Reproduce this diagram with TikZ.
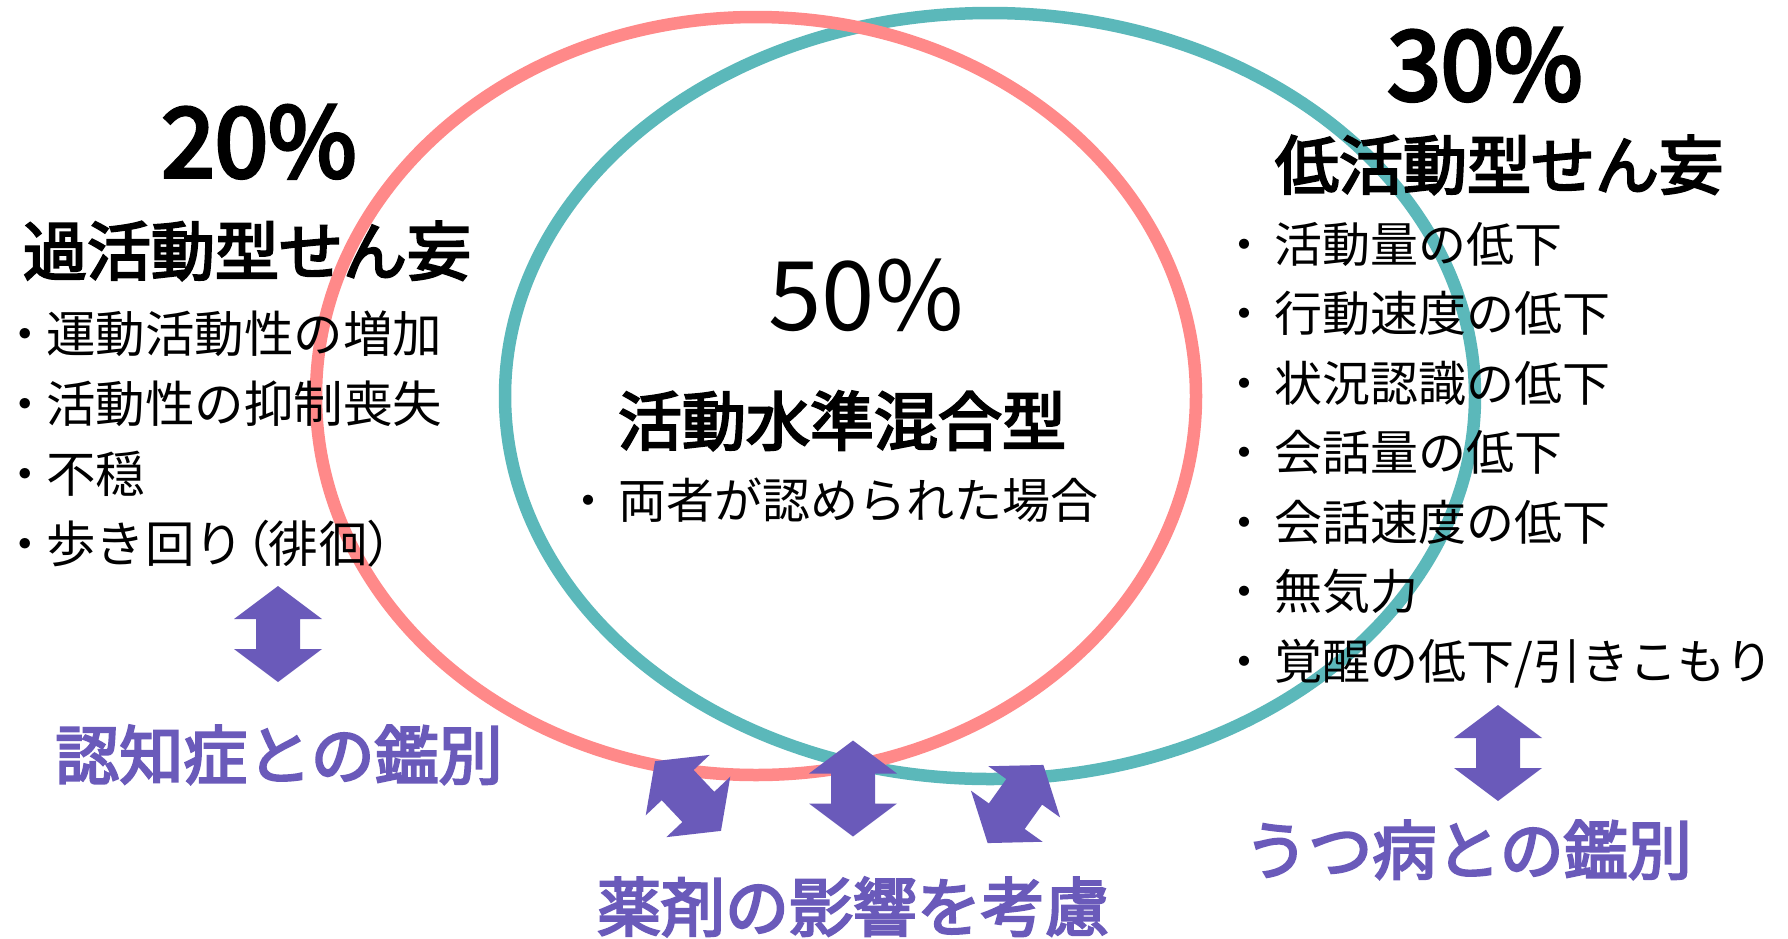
\documentclass[tikz,border=0pt]{standalone}
\usepackage{fontspec}
\setmainfont{Noto Sans CJK JP}
\newfontfamily\jpsemi{Noto Sans CJK JP}[FakeBold=3.5]
\newfontfamily\jppct{Noto Sans CJK JP}[FakeBold=4]
\definecolor{pinkc}{RGB}{255,137,137}
\definecolor{tealc}{RGB}{91,184,186}
\definecolor{purp}{RGB}{106,90,186}
\newcommand\pal[1]{{\addfontfeatures{RawFeature=+palt}#1}}
\newcommand\jbul{\makebox[0pt]{\pal{・}}\hspace{31pt}}
\newcommand\lbul{\makebox[0pt]{\pal{・}}\hspace{21pt}}
\tikzset{
  dblarrow/.pic={
    \fill[purp] (0,-48) -- (44,-15) -- (22,-15) -- (22,15) -- (44,15) -- (0,48)
      -- (-44,15) -- (-22,15) -- (-22,-15) -- (-44,-15) -- cycle;
  },
  every node/.style={inner sep=0pt, outer sep=0pt},
  pctbold/.style={anchor=base, font=\fontsize{96pt}{110pt}\jppct},
  pctreg/.style={anchor=base, font=\fontsize{96pt}{110pt}\selectfont},
  title/.style={anchor=base, font=\fontsize{64pt}{72pt}\jpsemi},
  litem/.style={anchor=base west, font=\fontsize{49.5pt}{60pt}\selectfont},
  ritem/.style={anchor=base west, font=\fontsize{48pt}{60pt}\selectfont},
  plabel/.style={anchor=base, text=purp, font=\fontsize{64pt}{72pt}\jpsemi},
  ring/.style={line width=12.5pt}
}
\begin{document}
\begin{tikzpicture}[x=1pt,y=-1pt]
\useasboundingbox (0,0) rectangle (1788,938);
\fill[white] (0,0) rectangle (1788,938);
% rings
\draw[ring, tealc] (990,396) ellipse [x radius=485, y radius=383];
\draw[ring, pinkc] (756,396) ellipse [x radius=440, y radius=379];
% left block
\node[pctbold] (p20) at (259,177) {20\%};
\node[title] (hyper) at (247,275) {過活動型せん妄};
\node[litem] (l1) at (25,352) {\lbul 運動活動性の増加};
\node[litem] (l2) at (25,422) {\lbul 活動性の抑制喪失};
\node[litem] (l3) at (25,492) {\lbul 不穏};
\node[litem] (l4) at (25,562) {\lbul 歩き回り\pal{（}徘徊\pal{）}};
% middle block
\node[pctreg] (p50) at (866,330) {50\%};
\node[title] (mixed) at (842,445) {活動水準混合型};
\node[ritem] (m1) at (588,518) {\jbul 両者が認められた場合};
% right block
\node[pctbold] (p30) at (1485,100) {30\%};
\node[title] (hypo) at (1499,189) {低活動型せん妄};
\node[ritem] (r1) at (1244,262) {\jbul 活動量の低下};
\node[ritem] (r2) at (1244,331.5) {\jbul 行動速度の低下};
\node[ritem] (r3) at (1244,401) {\jbul 状況認識の低下};
\node[ritem] (r4) at (1244,470.5) {\jbul 会話量の低下};
\node[ritem] (r5) at (1244,540) {\jbul 会話速度の低下};
\node[ritem] (r6) at (1244,609.5) {\jbul 無気力};
\node[ritem] (r7) at (1244,679) {\jbul 覚醒の低下/引きこもり};
% arrows
\pic (aL) at (278,634) {dblarrow};
\pic (aR) at (1498,753) {dblarrow};
\pic (aM) at (853,788.5) {dblarrow};
\pic[rotate=43.4] (aD1) at (688,796) {dblarrow};
\pic[rotate=-35.5] (aD2) at (1015.5,804) {dblarrow};
% purple labels
\node[plabel] (dem) at (279,779) {認知症との鑑別};
\node[plabel] (drug) at (853,931) {薬剤の影響を考慮};
\node[plabel] (dep) at (1468,874) {うつ病との鑑別};
\end{tikzpicture}
\end{document}
